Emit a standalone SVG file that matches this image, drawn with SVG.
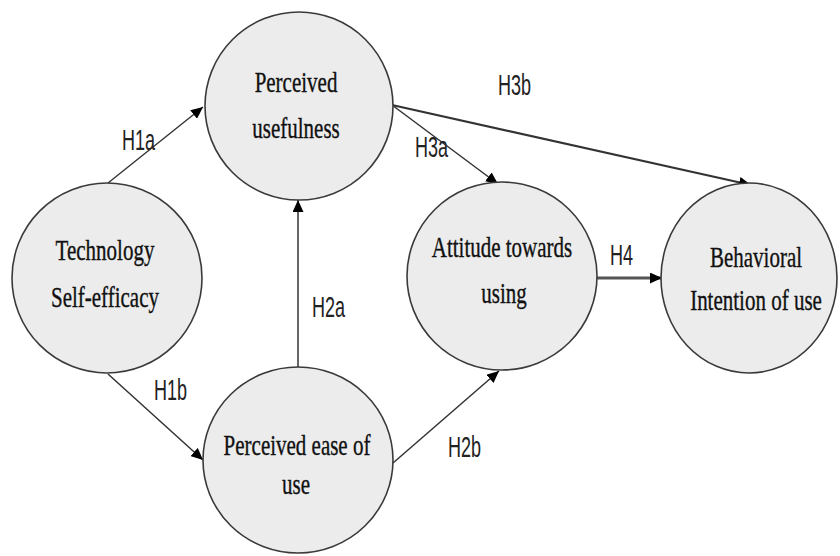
<svg xmlns="http://www.w3.org/2000/svg" width="840" height="556" viewBox="0 0 840 556">
<style>
.node{fill:#ececec;stroke:#3a3a3a;stroke-width:1.6}
.nt{font-family:"Liberation Serif","Times New Roman",serif;font-size:21px;fill:#111;stroke:#111;stroke-width:0.25;text-anchor:middle}
.lb{font-family:"Liberation Sans",Arial,sans-serif;font-size:18px;fill:#222}
.edge{stroke:#333;stroke-width:1.5;fill:none;marker-end:url(#ah)}
</style>
<defs>
<marker id="ah" markerUnits="userSpaceOnUse" markerWidth="13" markerHeight="11" refX="12" refY="5.5" orient="auto">
<path d="M0,0 L12,5.5 L0,11 Z" fill="#000"/>
</marker>
</defs>
<rect width="840" height="556" fill="#fff"/>
<g id="connectors">
<line class="edge" x1="108" y1="183" x2="203" y2="107"/>
<line class="edge" x1="108" y1="374" x2="203" y2="460"/>
<line class="edge" x1="298" y1="368" x2="298" y2="200"/>
<line class="edge" x1="393" y1="463" x2="499" y2="371"/>
<line class="edge" x1="392" y1="105" x2="498" y2="184"/>
<line class="edge" x1="392" y1="105" x2="751" y2="185" style="stroke-width:2.2"/>
<line class="edge" x1="597" y1="278" x2="662" y2="278" style="stroke:#555;stroke-width:3"/>
<g id="labels">
<text class="lb" transform="matrix(1,0,0,1.65,122,150)">H1a</text>
<text class="lb" transform="matrix(1,0,0,1.65,154,400)">H1b</text>
<text class="lb" transform="matrix(1,0,0,1.65,312,317)">H2a</text>
<text class="lb" transform="matrix(1,0,0,1.65,448,457)">H2b</text>
<text class="lb" transform="matrix(1,0,0,1.65,415,157)">H3a</text>
<text class="lb" transform="matrix(1,0,0,1.65,498,95)">H3b</text>
<text class="lb" transform="matrix(1,0,0,1.65,610,265)">H4</text>
</g>
</g>
<g id="tech">
<ellipse class="node" cx="107" cy="278" rx="95" ry="95"/>
<text class="nt" transform="matrix(1,0,0,1.45,105,260)">Technology</text>
<text class="nt" transform="matrix(1,0,0,1.45,105,307)">Self-efficacy</text>
</g>
<g id="pu">
<ellipse class="node" cx="299" cy="106" rx="94" ry="94"/>
<text class="nt" transform="matrix(1,0,0,1.45,296,92)">Perceived</text>
<text class="nt" transform="matrix(1,0,0,1.45,296,138)">usefulness</text>
</g>
<g id="peou">
<ellipse class="node" cx="298" cy="460" rx="95" ry="93"/>
<text class="nt" transform="matrix(1,0,0,1.45,297,455)">Perceived ease of</text>
<text class="nt" transform="matrix(1,0,0,1.45,296,494)">use</text>
</g>
<g id="attitude">
<ellipse class="node" cx="502" cy="276" rx="95" ry="94"/>
<text class="nt" transform="matrix(1,0,0,1.45,502,257)">Attitude towards</text>
<text class="nt" transform="matrix(1,0,0,1.45,504,303)">using</text>
</g>
<g id="bi">
<ellipse class="node" cx="749" cy="278" rx="88" ry="95"/>
<text class="nt" transform="matrix(1,0,0,1.45,756,267)">Behavioral</text>
<text class="nt" transform="matrix(1,0,0,1.45,756,310)">Intention of use</text>
</g>
</svg>
